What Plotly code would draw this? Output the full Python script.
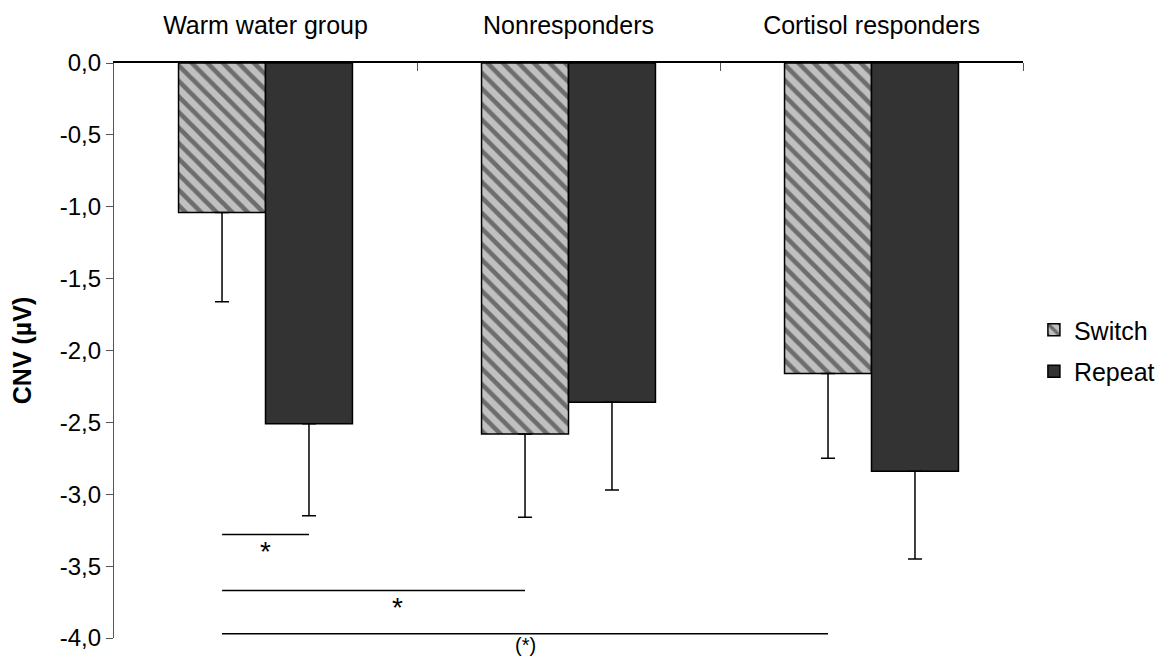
import plotly.graph_objects as go

categories = ["Warm water group", "Nonresponders", "Cortisol responders"]
switch_mean = [-1.04, -2.58, -2.16]
switch_se = [0.62, 0.58, 0.59]
repeat_mean = [-2.51, -2.36, -2.84]
repeat_se = [0.64, 0.61, 0.61]

# significance brackets
sig_from_group = [0, 0, 0]
sig_to_group = [0, 1, 2]
sig_to_series = ["Repeat", "Switch", "Switch"]
sig_y = [-3.28, -3.67, -3.97]
sig_label = ["*", "*", "(*)"]
sig_label_x_frac = [0.5, 0.58, 0.5]

y_ticks = [0, -0.5, -1, -1.5, -2, -2.5, -3, -3.5, -4]
y_ticktext = [f"{v:.1f}".replace(".", ",") for v in y_ticks]

BARGAP = 0.426
FONT = "Liberation Sans, Arial, sans-serif"

xpos = list(range(len(categories)))
half = (1 - BARGAP) / 4  # offset of each bar centre from group centre

fig = go.Figure()
fig.add_trace(go.Bar(
    name="Switch", x=xpos, y=switch_mean,
    marker=dict(color="#c0c0c0", line=dict(color="#000000", width=1.5),
                pattern=dict(shape="\\", fgcolor="#1a1a1a", bgcolor="#c0c0c0",
                             size=11, solidity=0.42)),
    error_y=dict(type="data", symmetric=False, array=[0] * len(switch_se),
                 arrayminus=switch_se, color="#000000", thickness=1.5, width=7),
    legendgroup="a",
))
fig.add_trace(go.Bar(
    name="Repeat", x=xpos, y=repeat_mean,
    marker=dict(color="#333333", line=dict(color="#000000", width=1.5)),
    error_y=dict(type="data", symmetric=False, array=[0] * len(repeat_se),
                 arrayminus=repeat_se, color="#000000", thickness=1.5, width=7),
    legendgroup="b",
))

annotations = []
for g0, g1, s1, yv, lab, fr in zip(sig_from_group, sig_to_group, sig_to_series,
                                   sig_y, sig_label, sig_label_x_frac):
    x0 = g0 - half
    x1 = g1 + (half if s1 == "Repeat" else -half)
    fig.add_trace(go.Scatter(x=[x0, x1], y=[yv, yv], mode="lines",
                             line=dict(color="#000000", width=1.5),
                             showlegend=False, hoverinfo="skip", cliponaxis=False))
    annotations.append(dict(x=x0 + (x1 - x0) * fr, y=yv, xref="x", yref="y",
                            text=lab, showarrow=False, yanchor="middle",
                            yshift=-17 if lab == "*" else -11,
                            font=dict(family=FONT, size=28 if lab == "*" else 20,
                                      color="#000000")))

fig.update_layout(
    width=1164, height=657,
    margin=dict(l=106, r=144, t=55, b=27),
    paper_bgcolor="white", plot_bgcolor="white",
    barmode="group", bargap=BARGAP, bargroupgap=0,
    font=dict(family=FONT, size=22, color="#000000"),
    showlegend=True,
    legend=dict(x=1.012, y=0.5, xanchor="left", yanchor="middle",
                font=dict(family=FONT, size=25, color="#000000"),
                tracegroupgap=6, bgcolor="rgba(0,0,0,0)"),
    annotations=annotations,
)
fig.update_xaxes(
    range=[-0.5, len(categories) - 0.5], side="top", automargin=False,
    tickmode="array", tickvals=xpos, ticktext=categories, ticks="",
    tickfont=dict(family=FONT, size=25, color="#000000"),
    ticklabelstandoff=17,
    showline=True, linecolor="#000000", linewidth=1.5,
    showgrid=False, zeroline=False,
    minor=dict(tickmode="array", tickvals=[p + 0.5 for p in xpos],
               ticks="inside", ticklen=8, tickcolor="#555555", tickwidth=1),
)
fig.update_yaxes(
    range=[-4, 0], automargin=False,
    tickmode="array", tickvals=y_ticks, ticktext=y_ticktext,
    ticks="outside", ticklen=7, tickcolor="#555555", tickwidth=1,
    showline=True, linecolor="#555555", linewidth=1.2,
    showgrid=False, zeroline=False,
    tickfont=dict(family=FONT, size=24, color="#000000"),
    title=dict(text="<b>CNV (µV)</b>", standoff=30,
               font=dict(family=FONT, size=25, color="#000000")),
)

fig.write_html("out.html")
